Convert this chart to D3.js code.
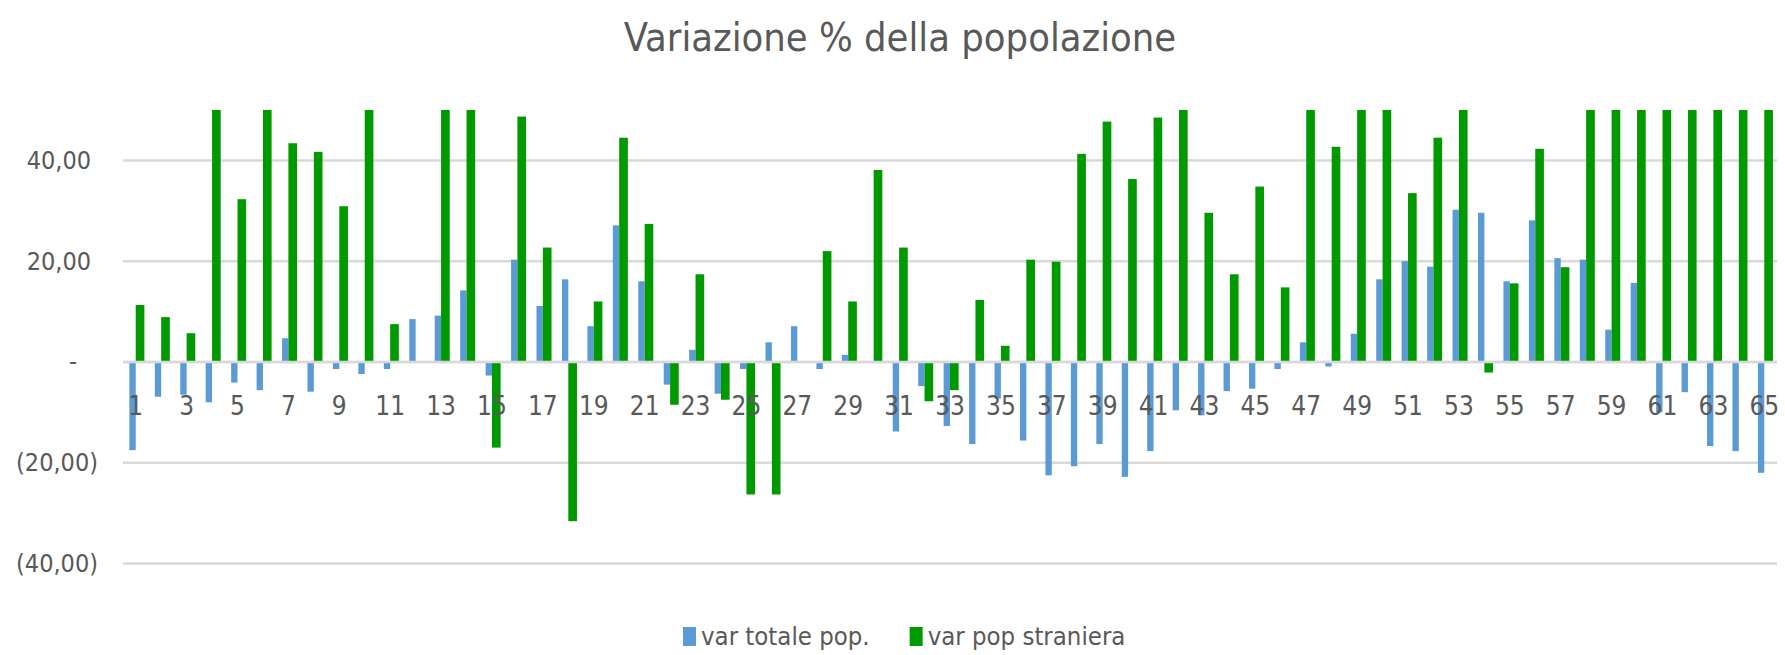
<!DOCTYPE html>
<html>
<head>
<meta charset="utf-8">
<script src="https://cdn.jsdelivr.net/npm/d3@7"></script>
<style>
  body { margin: 0; background: #fff; }
  text { font-family: "DejaVu Sans Condensed", "DejaVu Sans", sans-serif; font-stretch: condensed; fill: #595959; }
</style>
</head>
<body>
<script>
// categories 1..65
var categories = d3.range(1, 66);

// var totale pop. (%)
var totalPop = [
  -17.5, -6.9, -6.5, -8.0, -4.1, -5.6, 4.7, -5.9, -1.4, -2.4,
  -1.4, 8.5, 9.2, 14.2, -2.7, 20.3, 11.1, 16.4, 7.1, 27.1,
  16.0, -4.5, 2.4, -6.3, -1.4, 3.9, 7.1, -1.4, 1.4, 0,
  -13.8, -4.8, -12.7, -16.3, -7.3, -15.6, -22.5, -20.7, -16.3, -22.8,
  -17.7, -9.6, -10.6, -5.8, -5.3, -1.4, 3.9, -0.9, 5.6, 16.4,
  20.0, 18.9, 30.2, 29.6, 16.0, 28.1, 20.6, 20.3, 6.4, 15.7,
  -10.0, -6.0, -16.7, -17.7, -22.0
];

// var pop straniera (%) - bars above 50 are cut off in the original
var foreignPop = [
  11.3, 8.9, 5.7, 60, 32.3, 60, 43.4, 41.7, 30.9, 60,
  7.5, 0, 60, 60, -17.0, 48.7, 22.7, -31.6, 12.0, 44.5,
  27.4, -8.5, 17.4, -7.5, -26.3, -26.3, 0, 22.0, 12.0, 38.1,
  22.7, -7.8, -5.6, 12.3, 3.2, 20.3, 19.9, 41.3, 47.7, 36.3,
  48.5, 60, 29.6, 17.4, 34.8, 14.8, 60, 42.7, 60, 60,
  33.5, 44.5, 60, -2.1, 15.6, 42.3, 18.8, 60, 60, 60,
  60, 60, 60, 60, 60
];

var yTicks = [-40, -20, 0, 20, 40];
var seriesNames = ["var totale pop.", "var pop straniera"];
var colors = ["#5b9bd5", "#009900"];

var width = 1785, height = 655;
var plotLeft = 123, plotRight = 1777, plotTop = 110, plotBottom = 563.5;

var svg = d3.select("body")
    .append("svg")
    .attr("width", width)
    .attr("height", height);

var x = d3.scaleBand()
    .domain(categories)
    .range([plotLeft, plotRight]);

var y = d3.scaleLinear()
    .domain([-40, 50])
    .range([plotBottom, plotTop]);

svg.append("clipPath")
    .attr("id", "plot-clip")
    .append("rect")
    .attr("x", plotLeft)
    .attr("y", plotTop)
    .attr("width", plotRight - plotLeft)
    .attr("height", plotBottom - plotTop);

// gridlines
svg.append("g")
    .selectAll("line")
    .data(yTicks)
    .enter()
    .append("line")
    .attr("x1", plotLeft)
    .attr("x2", plotRight)
    .attr("y1", d => y(d))
    .attr("y2", d => y(d))
    .attr("stroke", "#d9d9d9")
    .attr("stroke-width", 2.5);

// y axis labels (accounting style)
var yAxis = svg.append("g")
    .attr("transform", "translate(98,0)")
    .call(d3.axisLeft(y)
        .tickValues(yTicks)
        .tickSize(0)
        .tickPadding(0)
        .tickFormat(function (d) {
            if (d === 0) return "-";
            var s = d3.format(".2f")(Math.abs(d)).replace(".", ",");
            return d < 0 ? "(" + s + ")" : s;
        }));
yAxis.select(".domain").remove();
yAxis.selectAll("text")
    .style("font-size", "25px")
    .attr("fill", "#595959")
    .attr("x", d => d > 0 ? -7 : (d === 0 ? -21 : 0));

var bw = x.bandwidth();
var plot = svg.append("g").attr("clip-path", "url(#plot-clip)");

plot.selectAll(".bar-total")
    .data(totalPop)
    .enter()
    .append("rect")
    .attr("class", "bar-total")
    .attr("x", (d, i) => x(categories[i]) + bw / 2 - bw * 0.25)
    .attr("width", bw * 0.25)
    .attr("y", d => y(Math.max(0, d)))
    .attr("height", d => Math.abs(y(d) - y(0)))
    .attr("fill", colors[0]);

plot.selectAll(".bar-foreign")
    .data(foreignPop)
    .enter()
    .append("rect")
    .attr("class", "bar-foreign")
    .attr("x", (d, i) => x(categories[i]) + bw / 2)
    .attr("width", bw * 0.34)
    .attr("y", d => y(Math.max(0, d)))
    .attr("height", d => Math.abs(y(d) - y(0)))
    .attr("fill", colors[1]);

// horizontal axis line
svg.append("line")
    .attr("x1", plotLeft)
    .attr("x2", plotRight)
    .attr("y1", y(0))
    .attr("y2", y(0))
    .attr("stroke", "#d9d9d9")
    .attr("stroke-width", 2.5);

// x axis labels (every other category), drawn over the bars
var xAxis = svg.append("g")
    .attr("transform", "translate(0," + y(0) + ")")
    .call(d3.axisBottom(x)
        .tickValues(categories.filter(d => d % 2 === 1))
        .tickSize(0)
        .tickPadding(53));
xAxis.select(".domain").remove();
xAxis.selectAll("text")
    .style("font-size", "26px")
    .attr("fill", "#595959")
    .attr("dy", "0");

// title
svg.append("text")
    .attr("x", 900)
    .attr("y", 51)
    .attr("text-anchor", "middle")
    .style("font-size", "39.5px")
    .text("Variazione % della popolazione");

// legend
var legend = svg.append("g");
var lx = 683;
seriesNames.forEach(function (name, i) {
    legend.append("rect")
        .attr("x", lx)
        .attr("y", 627)
        .attr("width", 13)
        .attr("height", 19)
        .attr("fill", colors[i]);
    var t = legend.append("text")
        .attr("x", lx + 18)
        .attr("y", 645)
        .style("font-size", "25.5px")
        .text(name);
    lx += 18 + t.node().getComputedTextLength() + 40;
});
</script>
</body>
</html>
